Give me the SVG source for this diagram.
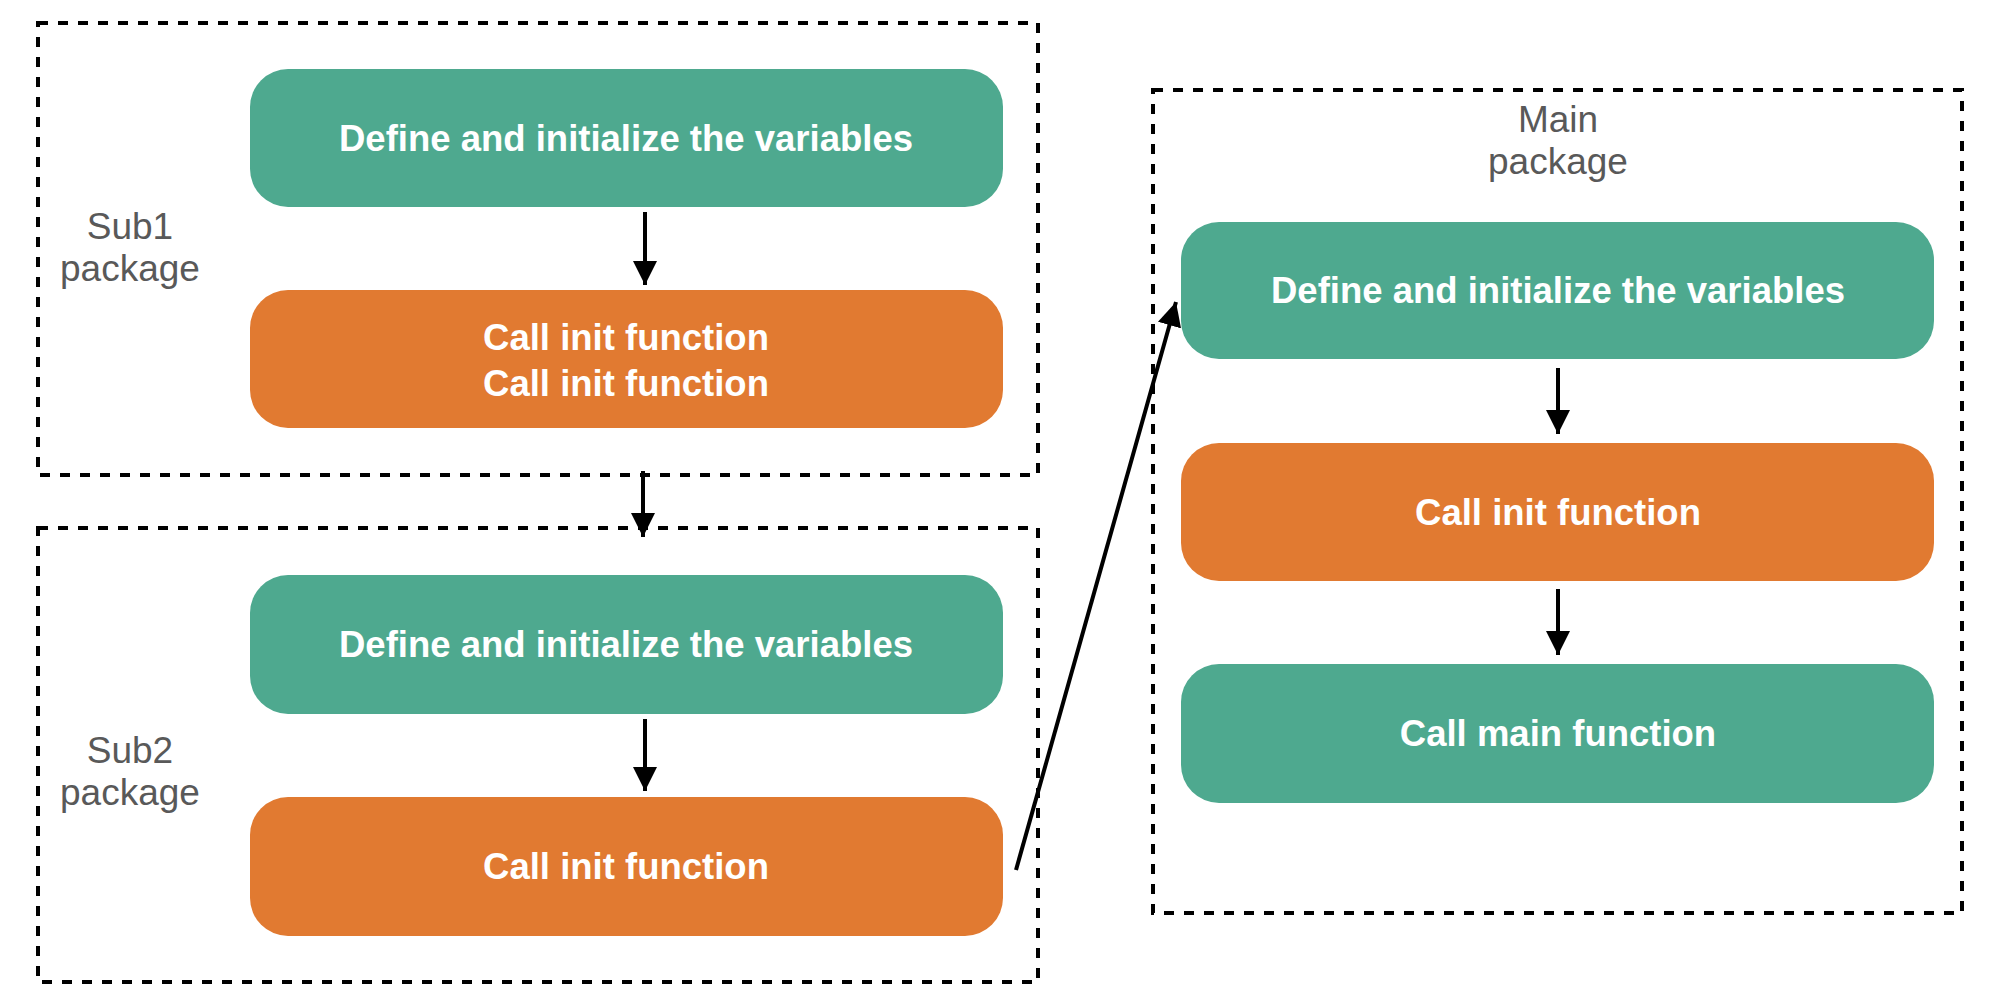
<svg xmlns="http://www.w3.org/2000/svg" width="2002" height="1000" viewBox="0 0 2002 1000">
<defs>
<style>
.pkg{fill:none;stroke:#000;stroke-width:4;stroke-dasharray:10 10}
.green{fill:#4EA98F}
.orange{fill:#E17A31}
.nt{font-family:"Liberation Sans",Arial,Helvetica,sans-serif;font-size:36.5px;font-weight:bold;fill:#fff;text-anchor:middle}
.lbl{font-family:"Liberation Sans",Arial,Helvetica,sans-serif;font-size:37px;fill:#595959;text-anchor:middle}
.edge{stroke:#000;stroke-width:4;fill:none}
</style>
<marker id="arr" markerWidth="6" markerHeight="6" refX="6" refY="3" orient="auto" markerUnits="strokeWidth">
<path d="M0,0 L6,3 L0,6 Z" fill="#000"/>
</marker>
</defs>
<rect width="2002" height="1000" fill="#fff"/>

<g id="sub1-package">
<rect class="pkg" x="38" y="23" width="1000" height="452"/>
<text class="lbl" x="130" y="239">Sub1</text>
<text class="lbl" x="130" y="281">package</text>
</g>
<g id="sub1-define">
<rect class="green" x="250" y="69" width="753" height="138" rx="38" ry="38"/>
<text class="nt" x="626" y="151">Define and initialize the variables</text>
</g>
<g id="sub1-init">
<rect class="orange" x="250" y="290" width="753" height="138" rx="38" ry="38"/>
<text class="nt" x="626" y="350">Call init function</text>
<text class="nt" x="626" y="396">Call init function</text>
</g>

<g id="sub2-package">
<rect class="pkg" x="38" y="528" width="1000" height="454"/>
<text class="lbl" x="130" y="763">Sub2</text>
<text class="lbl" x="130" y="805">package</text>
</g>
<g id="sub2-define">
<rect class="green" x="250" y="575" width="753" height="139" rx="38" ry="38"/>
<text class="nt" x="626" y="657">Define and initialize the variables</text>
</g>
<g id="sub2-init">
<rect class="orange" x="250" y="797" width="753" height="139" rx="38" ry="38"/>
<text class="nt" x="626" y="879">Call init function</text>
</g>

<g id="main-package">
<rect class="pkg" x="1153" y="90" width="809" height="823"/>
<text class="lbl" x="1558" y="132">Main</text>
<text class="lbl" x="1558" y="174">package</text>
</g>
<g id="main-define">
<rect class="green" x="1181" y="222" width="753" height="137" rx="38" ry="38"/>
<text class="nt" x="1558" y="303">Define and initialize the variables</text>
</g>
<g id="main-init">
<rect class="orange" x="1181" y="443" width="753" height="138" rx="38" ry="38"/>
<text class="nt" x="1558" y="525">Call init function</text>
</g>
<g id="main-call">
<rect class="green" x="1181" y="664" width="753" height="139" rx="38" ry="38"/>
<text class="nt" x="1558" y="746">Call main function</text>
</g>

<g id="connectors">
<line class="edge" x1="645" y1="212" x2="645" y2="285" marker-end="url(#arr)"/>
<line class="edge" x1="643" y1="471" x2="643" y2="537" marker-end="url(#arr)"/>
<line class="edge" x1="645" y1="719" x2="645" y2="791" marker-end="url(#arr)"/>
<line class="edge" x1="1016" y1="870" x2="1176" y2="302" marker-end="url(#arr)"/>
<line class="edge" x1="1558" y1="368" x2="1558" y2="434" marker-end="url(#arr)"/>
<line class="edge" x1="1558" y1="589" x2="1558" y2="655" marker-end="url(#arr)"/>
</g>
</svg>
